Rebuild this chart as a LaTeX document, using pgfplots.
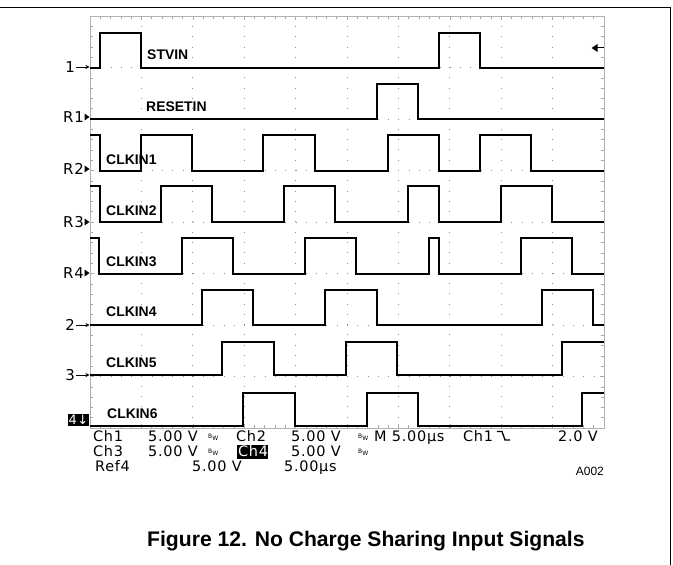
\documentclass[border=0pt]{standalone}
\usepackage{pgfplots}
\pgfplotsset{compat=1.18}
\usetikzlibrary{arrows.meta}
\usepackage{fontspec}
\setmainfont{Liberation Sans}
\newfontfamily\oscfont[LetterSpace=5]{DejaVu Sans}

\begin{document}
\begin{tikzpicture}[x=1bp,y=-1bp,
  lab/.style={font=\bfseries\fontsize{14}{14}\selectfont, anchor=base west, inner sep=0pt},
  mk/.style={font=\oscfont\fontsize{15}{15}\selectfont, anchor=east, inner sep=0pt},
  ro/.style={font=\oscfont\fontsize{14.5}{14.5}\selectfont, anchor=base west, inner sep=0pt},
  bw/.style={font=\oscfont\fontsize{6}{6}\selectfont, anchor=base west, inner sep=0pt}]
\path[use as bounding box] (0,0) rectangle (673,565);
% page frame
\draw[line width=1.2bp] (0,7.5) -- (670.5,7.5) -- (670.5,565);

\begin{axis}[
  at={(90bp,-428bp)}, anchor=south west,
  scale only axis, width=514bp, height=412bp,
  xmin=0, xmax=10, ymin=0, ymax=8,
  xtick={0,...,10}, ytick={0,...,8},
  xticklabels={}, yticklabels={},
  minor x tick num=4, minor y tick num=4,
  tick align=inside, major tick length=4bp, minor tick length=3bp,
  tick style={gray!70, line width=0.6bp},
  grid=major,
  major grid style={gray!90, line width=1bp, dash pattern=on 1bp off 9.28bp},
  axis line style={gray!60, line width=0.9bp},
  clip=false,
  trace/.style={black, solid, line width=2bp, const plot, mark=none},
]
% STVIN
\addplot[trace] coordinates {(0,7)(0.19,7.67)(0.99,7)(6.79,7.67)(7.58,7)(10,7)};
% RESETIN
\addplot[trace] coordinates {(0,6)(5.58,6.68)(6.39,6)(10,6)};
% CLKIN1
\addplot[trace] coordinates {(0,5.68)(0.19,5)(0.99,5.68)(1.98,5)(3.37,5.68)(4.38,5)(5.79,5.68)(6.78,5)(7.59,5.68)(8.58,5)(10,5)};
% CLKIN2
\addplot[trace] coordinates {(0,4.7)(0.19,4)(1.38,4.7)(2.37,4)(3.77,4.7)(4.77,4)(6.19,4.7)(6.79,4)(7.99,4.7)(8.99,4)(10,4)};
% CLKIN3
\addplot[trace] coordinates {(0,3.68)(0.18,3)(1.79,3.68)(2.78,3)(4.18,3.68)(5.18,3)(6.59,3.68)(6.78,3)(8.38,3.68)(9.38,3)(10,3)};
% CLKIN4
\addplot[trace] coordinates {(0,2)(2.18,2.68)(3.17,2)(4.57,2.68)(5.58,2)(8.79,2.68)(9.79,2)(10,2)};
% CLKIN5
\addplot[trace] coordinates {(0,1.02)(2.57,1.67)(3.58,1.02)(4.98,1.67)(5.98,1.02)(9.19,1.67)(10,1.67)};
% CLKIN6
\addplot[trace] coordinates {(0,0.03)(2.98,0.68)(3.98,0.03)(5.39,0.68)(6.39,0.03)(9.58,0.68)(10,0.68)};
\end{axis}

% trace labels
\node[lab] at (147,60) {STVIN};
\node[lab] at (146,112) {RESETIN};
\node[lab] at (106,165) {CLKIN1};
\node[lab] at (106,215) {CLKIN2};
\node[lab] at (106,266) {CLKIN3};
\node[lab] at (106,316) {CLKIN4};
\node[lab] at (106,367) {CLKIN5};
\node[lab] at (107,418) {CLKIN6};

% channel markers
\node[mk] at (75,67) {1};
\node[mk] at (75,325) {2};
\node[mk] at (75,375) {3};
\draw[-{Stealth[length=4bp,width=4bp]}, line width=0.8bp] (76,67) -- (89.5,67);
\draw[-{Stealth[length=4bp,width=4bp]}, line width=0.8bp] (76,325) -- (89.5,325);
\draw[-{Stealth[length=4bp,width=4bp]}, line width=0.8bp] (76,375) -- (89.5,375);
\node[mk] at (84,117) {R1};
\node[mk] at (84,169) {R2};
\node[mk] at (84,222) {R3};
\node[mk] at (84,273) {R4};
\fill (84.5,113.5) -- (89.5,117) -- (84.5,120.5) -- cycle;
\fill (84.5,165.5) -- (89.5,169) -- (84.5,172.5) -- cycle;
\fill (84.5,218.5) -- (89.5,222) -- (84.5,225.5) -- cycle;
\fill (84.5,269.5) -- (89.5,273) -- (84.5,276.5) -- cycle;
\node[fill=black, text=white, font=\oscfont\fontsize{13}{13}\selectfont, inner sep=1bp,
      anchor=south east] at (89.5,426) {4\kern0.5bp↓};

% trigger level marker
\fill (591.5,48) -- (597.5,44) -- (597.5,52) -- cycle;
\draw[line width=1bp] (596,48) -- (603.5,48);

% readout, row 1
\node[ro] at (93,441) {Ch1};
\node[ro] at (148,441) {5.00 V};
\node[bw] at (208,438) {B\raisebox{-2bp}{W}};
\node[ro] at (236,441) {Ch2};
\node[ro] at (291,441) {5.00 V};
\node[bw] at (358,438) {B\raisebox{-2bp}{W}};
\node[ro] at (374,441) {M 5.00µs};
\node[ro] at (463,441) {Ch1};
\draw[line width=1.3bp] (497,431.5) -- (502,431.5) -- (505,440) -- (510,440);
\node[ro, anchor=base east] at (598,441) {2.0 V};
% readout, row 2
\node[ro] at (93,456) {Ch3};
\node[ro] at (148,456) {5.00 V};
\node[bw] at (208,453) {B\raisebox{-2bp}{W}};
\fill (236.5,445) rectangle (267.5,459);
\node[ro, text=white] at (238,456) {Ch4};
\node[ro] at (291,456) {5.00 V};
\node[bw] at (358,453) {B\raisebox{-2bp}{W}};
% readout, row 3
\node[ro] at (95,471) {Ref4};
\node[ro] at (192,471) {5.00 V};
\node[ro] at (284,471) {5.00µs};

\node[font=\fontsize{12}{12}\selectfont, anchor=base east, inner sep=0pt] at (604,475) {A002};

% caption
\node[font=\bfseries\fontsize{21.2}{22}\selectfont, anchor=base west, inner sep=0pt]
  at (147,546) {Figure 12. No Charge Sharing Input Signals};
\end{tikzpicture}
\end{document}
